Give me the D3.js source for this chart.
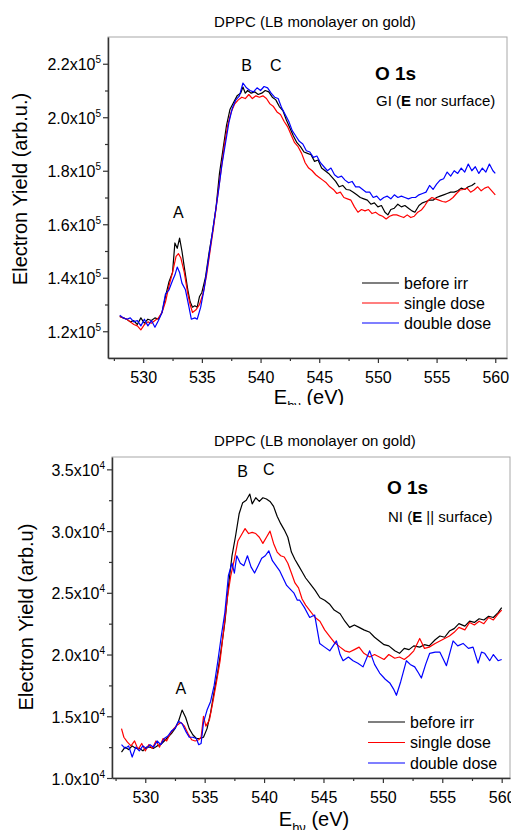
<!DOCTYPE html>
<html>
<head>
<meta charset="utf-8">
<script src="https://cdn.jsdelivr.net/npm/d3@7"></script>
<style>
body { margin: 0; background: #fff; }
text { font-family: "Liberation Sans", Arial, sans-serif; fill: #000; }
</style>
</head>
<body>
<div id="chart"></div>
<script>
// legend entries
var seriesNames = ["before irr", "single dose", "double dose"];
var seriesColors = ["#000000", "#ff0000", "#0000ff"];

// photon energy ticks (eV)
var xTicks = [530, 535, 540, 545, 550, 555, 560];
var xMinor = [527.5, 532.5, 537.5, 542.5, 547.5, 552.5, 557.5];

// ---- top panel: GI, electron yield in units of 1e5 ----
var giTicks = [1.2, 1.4, 1.6, 1.8, 2.0, 2.2];
var giMinor = [1.3, 1.5, 1.7, 1.9, 2.1];

var giBefore = [[528.0,1.255],[528.3,1.25],[528.6,1.245],[528.9,1.235],[529.2,1.24],[529.5,1.225],[529.8,1.25],[530.1,1.23],
  [530.4,1.245],[530.7,1.24],[531.0,1.25],[531.3,1.245],[531.6,1.27],[531.9,1.33],[532.2,1.385],[532.5,1.42],[532.7,1.53],
  [532.9,1.51],[533.1,1.548],[533.3,1.50],[533.5,1.44],[533.8,1.355],[534.0,1.31],[534.2,1.29],[534.4,1.295],[534.6,1.29],
  [534.8,1.33],[535.0,1.345],[535.3,1.40],[535.6,1.49],[535.9,1.57],[536.2,1.66],[536.5,1.79],[536.8,1.88],[537.1,1.97],
  [537.4,2.03],[537.7,2.055],[538.0,2.08],[538.3,2.09],[538.5,2.113],[538.7,2.09],[538.9,2.10],[539.2,2.09],[539.5,2.095],
  [539.8,2.085],[540.1,2.09],[540.4,2.10],[540.7,2.095],[541.0,2.075],[541.3,2.065],[541.6,2.04],[541.9,2.025],[542.2,1.99],
  [542.5,1.96],[542.8,1.93],[543.1,1.905],[543.4,1.89],[543.7,1.87],[544.0,1.865],[544.3,1.86],[544.6,1.835],[544.9,1.84],
  [545.2,1.81],[545.5,1.80],[545.8,1.79],[546.1,1.775],[546.4,1.76],[546.7,1.74],[547.0,1.745],[547.3,1.73],[547.6,1.728],
  [547.9,1.72],[548.2,1.71],[548.5,1.70],[548.8,1.695],[549.1,1.69],[549.4,1.675],[549.7,1.68],[550.0,1.665],[550.3,1.67],
  [550.6,1.645],[550.85,1.635],[551.1,1.655],[551.4,1.66],[551.7,1.675],[552.0,1.665],[552.3,1.67],[552.6,1.66],[552.9,1.65],
  [553.15,1.645],[553.5,1.67],[553.8,1.68],[554.1,1.685],[554.4,1.69],[554.7,1.69],[555.0,1.70],[555.3,1.705],[555.6,1.71],
  [555.9,1.715],[556.2,1.72],[556.5,1.72],[556.8,1.725],[557.1,1.735],[557.4,1.73],[557.7,1.74],[558.0,1.745],[558.3,1.754]];

var giSingle = [[528.0,1.255],[528.3,1.25],[528.6,1.245],[528.9,1.235],[529.2,1.225],[529.5,1.22],[529.8,1.205],[530.1,1.225],
  [530.4,1.235],[530.7,1.23],[531.0,1.24],[531.3,1.25],[531.6,1.27],[531.9,1.31],[532.2,1.37],[532.5,1.42],[532.8,1.48],
  [533.0,1.49],[533.2,1.475],[533.5,1.42],[533.8,1.34],[534.0,1.30],[534.2,1.27],[534.5,1.28],[534.8,1.30],[535.1,1.34],
  [535.4,1.41],[535.7,1.50],[536.0,1.59],[536.3,1.69],[536.6,1.79],[536.9,1.89],[537.2,1.97],[537.5,2.02],[537.8,2.05],
  [538.1,2.065],[538.4,2.075],[538.7,2.07],[539.0,2.085],[539.3,2.07],[539.6,2.08],[539.9,2.075],[540.2,2.08],[540.5,2.07],
  [540.8,2.05],[541.1,2.04],[541.4,2.02],[541.7,2.01],[542.0,1.985],[542.3,1.965],[542.6,1.935],[542.9,1.905],[543.2,1.89],
  [543.5,1.865],[543.8,1.83],[544.1,1.81],[544.4,1.80],[544.7,1.785],[545.0,1.775],[545.3,1.765],[545.6,1.755],[545.9,1.74],
  [546.2,1.73],[546.5,1.715],[546.8,1.72],[547.1,1.70],[547.4,1.695],[547.7,1.69],[548.0,1.665],[548.3,1.645],[548.6,1.655],
  [548.9,1.65],[549.2,1.655],[549.5,1.64],[549.8,1.645],[550.1,1.635],[550.4,1.63],[550.7,1.62],[551.0,1.63],[551.3,1.635],
  [551.6,1.635],[551.9,1.63],[552.2,1.625],[552.5,1.635],[552.8,1.625],[553.1,1.63],[553.4,1.645],[553.7,1.653],[554.0,1.67],
  [554.3,1.69],[554.6,1.70],[554.9,1.695],[555.2,1.69],[555.5,1.685],[555.8,1.683],[556.1,1.69],[556.4,1.70],[556.7,1.715],
  [557.0,1.728],[557.3,1.73],[557.6,1.735],[557.9,1.72],[558.2,1.728],[558.5,1.74],[558.8,1.725],[559.1,1.735],[559.4,1.74],
  [559.7,1.725],[560.0,1.71]];

var giDouble = [[528.0,1.26],[528.3,1.25],[528.6,1.245],[528.9,1.25],[529.2,1.235],[529.5,1.24],[529.8,1.22],[530.1,1.245],
  [530.4,1.22],[530.7,1.24],[531.0,1.215],[531.3,1.24],[531.6,1.27],[531.9,1.34],[532.2,1.355],[532.5,1.39],[532.7,1.41],
  [532.9,1.44],[533.1,1.42],[533.3,1.38],[533.6,1.355],[533.9,1.29],[534.1,1.245],[534.4,1.25],[534.6,1.245],[534.9,1.29],
  [535.2,1.36],[535.5,1.45],[535.8,1.54],[536.1,1.63],[536.4,1.72],[536.7,1.82],[537.0,1.90],[537.3,1.98],[537.6,2.035],
  [537.9,2.065],[538.2,2.08],[538.5,2.128],[538.8,2.11],[539.1,2.10],[539.4,2.095],[539.7,2.11],[540.0,2.10],[540.3,2.115],
  [540.6,2.11],[540.9,2.09],[541.2,2.075],[541.5,2.07],[541.8,2.035],[542.1,2.01],[542.4,1.985],[542.7,1.95],[543.0,1.93],
  [543.3,1.91],[543.6,1.90],[543.9,1.875],[544.2,1.87],[544.5,1.85],[544.8,1.855],[545.1,1.83],[545.4,1.815],[545.7,1.80],
  [546.0,1.81],[546.3,1.785],[546.6,1.775],[546.9,1.78],[547.2,1.765],[547.5,1.755],[547.8,1.76],[548.1,1.74],[548.4,1.74],
  [548.7,1.73],[549.0,1.72],[549.3,1.72],[549.6,1.70],[549.9,1.705],[550.2,1.69],[550.5,1.70],[550.8,1.705],[551.1,1.695],
  [551.4,1.71],[551.7,1.70],[552.0,1.705],[552.3,1.70],[552.6,1.695],[552.9,1.70],[553.2,1.70],[553.5,1.71],[553.8,1.715],
  [554.1,1.72],[554.4,1.745],[554.7,1.73],[555.0,1.75],[555.3,1.765],[555.6,1.77],[555.9,1.795],[556.2,1.78],[556.5,1.80],
  [556.8,1.79],[557.1,1.81],[557.4,1.795],[557.7,1.825],[558.0,1.80],[558.3,1.815],[558.6,1.79],[558.9,1.81],[559.2,1.795],
  [559.5,1.825],[559.8,1.80],[560.0,1.79]];

// ---- bottom panel: NI, electron yield in units of 1e4 ----
var niTicks = [1.0, 1.5, 2.0, 2.5, 3.0, 3.5];
var niMinor = [1.25, 1.75, 2.25, 2.75, 3.25];

var niBefore = [[528.0,1.21],[528.3,1.25],[528.6,1.23],[528.9,1.26],[529.2,1.24],[529.5,1.24],[529.8,1.22],[530.1,1.25],
  [530.4,1.25],[530.7,1.24],[531.0,1.26],[531.3,1.27],[531.6,1.30],[531.9,1.33],[532.2,1.36],[532.5,1.40],[532.8,1.46],
  [533.1,1.55],[533.4,1.49],[533.7,1.40],[534.0,1.35],[534.3,1.32],[534.6,1.32],[534.9,1.33],[535.2,1.40],[535.5,1.53],
  [535.8,1.70],[536.1,1.86],[536.4,2.05],[536.7,2.26],[537.0,2.55],[537.3,2.80],[537.6,2.96],[537.9,3.14],[538.2,3.23],
  [538.5,3.25],[538.8,3.30],[539.0,3.22],[539.3,3.27],[539.6,3.24],[539.9,3.27],[540.2,3.26],[540.5,3.24],[540.8,3.20],
  [541.1,3.12],[541.4,3.06],[541.7,3.01],[542.0,2.95],[542.3,2.83],[542.6,2.77],[542.9,2.72],[543.2,2.67],[543.5,2.62],
  [543.9,2.57],[544.3,2.52],[544.7,2.46],[545.1,2.44],[545.5,2.41],[545.9,2.36],[546.4,2.33],[546.8,2.27],[547.2,2.22],
  [547.6,2.24],[548.0,2.22],[548.4,2.20],[548.9,2.18],[549.3,2.14],[549.7,2.11],[550.1,2.08],[550.5,2.07],[551.0,2.03],
  [551.4,2.01],[551.8,2.05],[552.2,2.04],[552.6,2.07],[553.1,2.06],[553.5,2.08],[553.9,2.07],[554.4,2.12],[554.8,2.15],
  [555.2,2.14],[555.6,2.19],[556.0,2.21],[556.4,2.25],[556.9,2.23],[557.3,2.27],[557.7,2.26],[558.1,2.29],[558.5,2.28],
  [558.9,2.31],[559.3,2.30],[559.7,2.34],[560.0,2.38]];

var niSingle = [[528.0,1.40],[528.2,1.33],[528.5,1.29],[528.8,1.26],[529.1,1.30],[529.4,1.23],[529.7,1.28],[530.0,1.22],
  [530.3,1.27],[530.6,1.24],[530.9,1.30],[531.2,1.25],[531.5,1.32],[531.8,1.30],[532.1,1.36],[532.4,1.40],[532.7,1.43],
  [533.0,1.45],[533.3,1.42],[533.6,1.36],[533.9,1.31],[534.2,1.30],[534.5,1.31],[534.7,1.33],[534.9,1.50],[535.1,1.42],
  [535.4,1.47],[535.7,1.62],[536.0,1.78],[536.3,1.95],[536.6,2.20],[536.9,2.45],[537.2,2.64],[537.5,2.77],[537.8,2.92],
  [538.1,2.97],[538.4,3.02],[538.7,2.98],[539.0,2.99],[539.3,2.98],[539.6,2.95],[539.9,2.90],[540.2,2.95],[540.5,3.00],
  [540.8,2.90],[541.1,2.83],[541.4,2.80],[541.7,2.79],[542.0,2.74],[542.3,2.66],[542.6,2.58],[542.9,2.54],[543.2,2.45],
  [543.5,2.40],[543.9,2.35],[544.3,2.30],[544.7,2.27],[545.1,2.20],[545.5,2.15],[545.9,2.10],[546.4,2.06],[546.8,2.03],
  [547.2,2.02],[547.6,2.04],[548.0,2.06],[548.4,2.01],[548.9,1.98],[549.3,2.00],[549.7,1.98],[550.1,1.96],[550.5,2.00],
  [551.0,1.97],[551.4,1.98],[551.8,1.96],[552.2,1.99],[552.6,2.03],[553.1,2.13],[553.5,2.05],[553.9,2.06],[554.4,2.09],
  [554.8,2.11],[555.2,2.13],[555.6,2.15],[556.0,2.18],[556.4,2.22],[556.9,2.20],[557.3,2.26],[557.7,2.24],[558.1,2.27],
  [558.5,2.25],[558.9,2.30],[559.3,2.28],[559.7,2.33],[560.0,2.36]];

var niDouble = [[528.0,1.27],[528.3,1.24],[528.6,1.26],[528.9,1.17],[529.2,1.25],[529.5,1.22],[529.8,1.26],[530.1,1.24],
  [530.4,1.27],[530.7,1.25],[531.0,1.30],[531.3,1.27],[531.6,1.32],[531.9,1.34],[532.2,1.38],[532.5,1.40],[532.8,1.46],
  [533.1,1.44],[533.4,1.38],[533.7,1.33],[534.0,1.33],[534.3,1.32],[534.5,1.27],[534.7,1.28],[534.9,1.45],[535.2,1.55],
  [535.5,1.62],[535.8,1.75],[536.1,1.94],[536.4,2.15],[536.7,2.34],[537.0,2.64],[537.3,2.74],[537.5,2.66],[537.7,2.80],
  [538.0,2.74],[538.3,2.72],[538.6,2.80],[538.9,2.71],[539.2,2.66],[539.5,2.72],[539.8,2.78],[540.1,2.80],[540.4,2.84],
  [540.7,2.76],[541.0,2.72],[541.3,2.68],[541.6,2.62],[541.9,2.56],[542.2,2.53],[542.5,2.50],[542.8,2.44],[543.0,2.44],
  [543.4,2.38],[543.84,2.30],[544.26,2.32],[544.68,2.09],[545.1,2.06],[545.53,2.03],[546.09,2.11],[546.4,2.00],[546.65,1.95],
  [547.1,1.98],[547.49,1.95],[547.9,1.93],[548.33,1.90],[548.89,2.03],[549.3,1.92],[549.73,1.85],[550.2,1.80],[550.58,1.77],
  [550.9,1.72],[551.14,1.67],[551.5,1.78],[551.98,1.95],[552.3,1.92],[552.68,1.90],[553.0,1.85],[553.24,1.81],[553.6,1.92],
  [553.94,2.01],[554.4,2.02],[554.79,2.02],[555.1,1.96],[555.35,1.91],[555.91,2.11],[556.3,2.07],[556.75,2.09],[557.2,2.05],
  [557.59,2.06],[558.01,1.93],[558.3,2.02],[558.57,2.01],[558.99,1.95],[559.3,2.00],[559.7,1.95],[560.0,1.96]];

var svg = d3.select("#chart")
    .append("svg")
    .attr("width", 511)
    .attr("height", 830);

// top picture is cropped just under its x title in the reference
svg.append("clipPath").attr("id", "clipTop")
    .append("rect").attr("x", 0).attr("y", 0).attr("width", 511).attr("height", 405);

function drawPanel(cfg) {
    var root = svg.append("g");
    if (cfg.clip) root.attr("clip-path", "url(#" + cfg.clip + ")");

    var x = d3.scaleLinear().domain(cfg.xDomain).range([cfg.left, cfg.right]);
    var y = d3.scaleLinear().domain(cfg.yDomain).range([cfg.bottom, cfg.top]);

    // title
    root.append("text")
        .attr("x", cfg.titleX).attr("y", cfg.titleY)
        .attr("text-anchor", "middle")
        .style("font-size", "15px")
        .text("DPPC (LB monolayer on gold)");

    // frame (top and right sides are light)
    root.append("rect")
        .attr("x", cfg.left).attr("y", cfg.top)
        .attr("width", cfg.right - cfg.left).attr("height", cfg.bottom - cfg.top)
        .attr("fill", "none").attr("stroke", "#a8a8a8").attr("stroke-width", 1);

    // curves
    var clipId = cfg.id + "Plot";
    root.append("clipPath").attr("id", clipId)
        .append("rect").attr("x", cfg.left).attr("y", cfg.top)
        .attr("width", cfg.right - cfg.left).attr("height", cfg.bottom - cfg.top);

    var line = d3.line()
        .x(function (d) { return x(d[0]); })
        .y(function (d) { return y(d[1]); });

    root.append("g").attr("clip-path", "url(#" + clipId + ")")
        .selectAll("path")
        .data(cfg.series)
        .enter()
        .append("path")
        .attr("d", line)
        .attr("fill", "none")
        .attr("stroke", function (d, i) { return seriesColors[i]; })
        .attr("stroke-width", 1.2)
        .attr("stroke-linejoin", "round");

    // y axis: majors with labels, minors
    var yAx = root.append("g")
        .attr("transform", "translate(" + cfg.left + ",0)")
        .call(d3.axisLeft(y).tickValues(cfg.yTicks).tickSize(5).tickSizeOuter(0).tickFormat(""));
    root.append("g")
        .attr("transform", "translate(" + cfg.left + ",0)")
        .call(d3.axisLeft(y).tickValues(cfg.yMinor).tickSize(3).tickFormat(""))
        .call(function (g) { g.select(".domain").remove(); });

    var lab = yAx.selectAll(".tick").append("text")
        .attr("x", -7).attr("y", 6)
        .attr("text-anchor", "end")
        .style("font-size", "16px");
    lab.append("tspan").text(function (d) { return d3.format(".1f")(d) + "x10"; });
    lab.append("tspan").attr("dy", -7).style("font-size", "10px").text(cfg.exp);

    // x axis
    var xAx = root.append("g")
        .attr("transform", "translate(0," + cfg.bottom + ")")
        .call(d3.axisBottom(x).tickValues(xTicks).tickSize(5).tickSizeOuter(0).tickFormat(""));
    root.append("g")
        .attr("transform", "translate(0," + cfg.bottom + ")")
        .call(d3.axisBottom(x).tickValues(xMinor).tickSize(3).tickFormat(""))
        .call(function (g) { g.select(".domain").remove(); });

    xAx.selectAll(".tick").append("text")
        .attr("y", 25)
        .attr("text-anchor", "middle")
        .style("font-size", "16px")
        .text(function (d) { return d; });

    root.selectAll(".domain").attr("stroke", "#333").attr("stroke-width", 1.5);
    root.selectAll(".tick line").attr("stroke", "#333").attr("stroke-width", 1.2);
    root.selectAll(".tick text").attr("fill", null);

    // axis titles
    root.append("text")
        .attr("transform", "translate(" + cfg.yTitleX + "," + cfg.yTitleY + ") rotate(-90)")
        .attr("text-anchor", "middle")
        .style("font-size", "20px")
        .text(cfg.yTitle);

    var xt = root.append("text")
        .attr("x", cfg.xTitleX).attr("y", cfg.xTitleY)
        .attr("text-anchor", "middle")
        .style("font-size", "20px");
    xt.append("tspan").text("E");
    xt.append("tspan").attr("dy", 6).style("font-size", "13px").text("hν");
    xt.append("tspan").attr("dy", -6).text(" (eV)");

    // peak labels
    root.selectAll(".peak")
        .data(cfg.peaks)
        .enter()
        .append("text")
        .attr("x", function (d) { return x(d.e); })
        .attr("y", function (d) { return y(d.v); })
        .attr("text-anchor", "middle")
        .style("font-size", "16px")
        .text(function (d) { return d.name; });

    // edge label and geometry
    root.append("text")
        .attr("x", cfg.noteX).attr("y", cfg.noteY)
        .style("font-size", "19px").style("font-weight", "bold")
        .text("O 1s");
    var geo = root.append("text")
        .attr("x", cfg.noteX + 1).attr("y", cfg.noteY + cfg.geoDy)
        .style("font-size", "15px");
    geo.append("tspan").text(cfg.geo[0]);
    geo.append("tspan").style("font-weight", "bold").text("E");
    geo.append("tspan").text(cfg.geo[1]);

    // legend
    var leg = root.append("g")
        .selectAll("g")
        .data(seriesNames)
        .enter()
        .append("g")
        .attr("transform", function (d, i) { return "translate(" + cfg.legX + "," + (cfg.legY + i * cfg.legStep) + ")"; });
    leg.append("line")
        .attr("x1", 0).attr("x2", 37)
        .attr("stroke", function (d, i) { return seriesColors[i]; })
        .attr("stroke-width", 1.2);
    leg.append("text")
        .attr("x", 42).attr("y", 5.5)
        .style("font-size", "16px")
        .text(function (d) { return d; });
}

drawPanel({
    id: "gi", clip: "clipTop",
    left: 108, right: 507, top: 37, bottom: 358,
    xDomain: [527, 561], yDomain: [1.1, 2.3],
    yTicks: giTicks, yMinor: giMinor, exp: "5",
    series: [giBefore, giSingle, giDouble],
    titleX: 315, titleY: 27,
    yTitle: "Electron Yield (arb.u.)", yTitleX: 27, yTitleY: 189,
    xTitleX: 309, xTitleY: 404,
    peaks: [{ name: "A", e: 533.0, v: 1.623 }, { name: "B", e: 538.8, v: 2.172 }, { name: "C", e: 541.3, v: 2.172 }],
    noteX: 375, noteY: 80, geoDy: 26, geo: ["GI (", " nor surface)"],
    legX: 362, legY: 283, legStep: 20
});

drawPanel({
    id: "ni",
    left: 112, right: 510, top: 457, bottom: 778,
    xDomain: [527.2, 560.7], yDomain: [1.0, 3.6],
    yTicks: niTicks, yMinor: niMinor, exp: "4",
    series: [niBefore, niSingle, niDouble],
    titleX: 315, titleY: 446,
    yTitle: "Electron Yield (arb.u)", yTitleX: 33, yTitleY: 617,
    xTitleX: 314, xTitleY: 826,
    peaks: [{ name: "A", e: 533.0, v: 1.677 }, { name: "B", e: 538.2, v: 3.44 }, { name: "C", e: 540.4, v: 3.452 }],
    noteX: 387, noteY: 494, geoDy: 28, geo: ["NI (", " || surface)"],
    legX: 368, legY: 722, legStep: 20.5
});
</script>
</body>
</html>
